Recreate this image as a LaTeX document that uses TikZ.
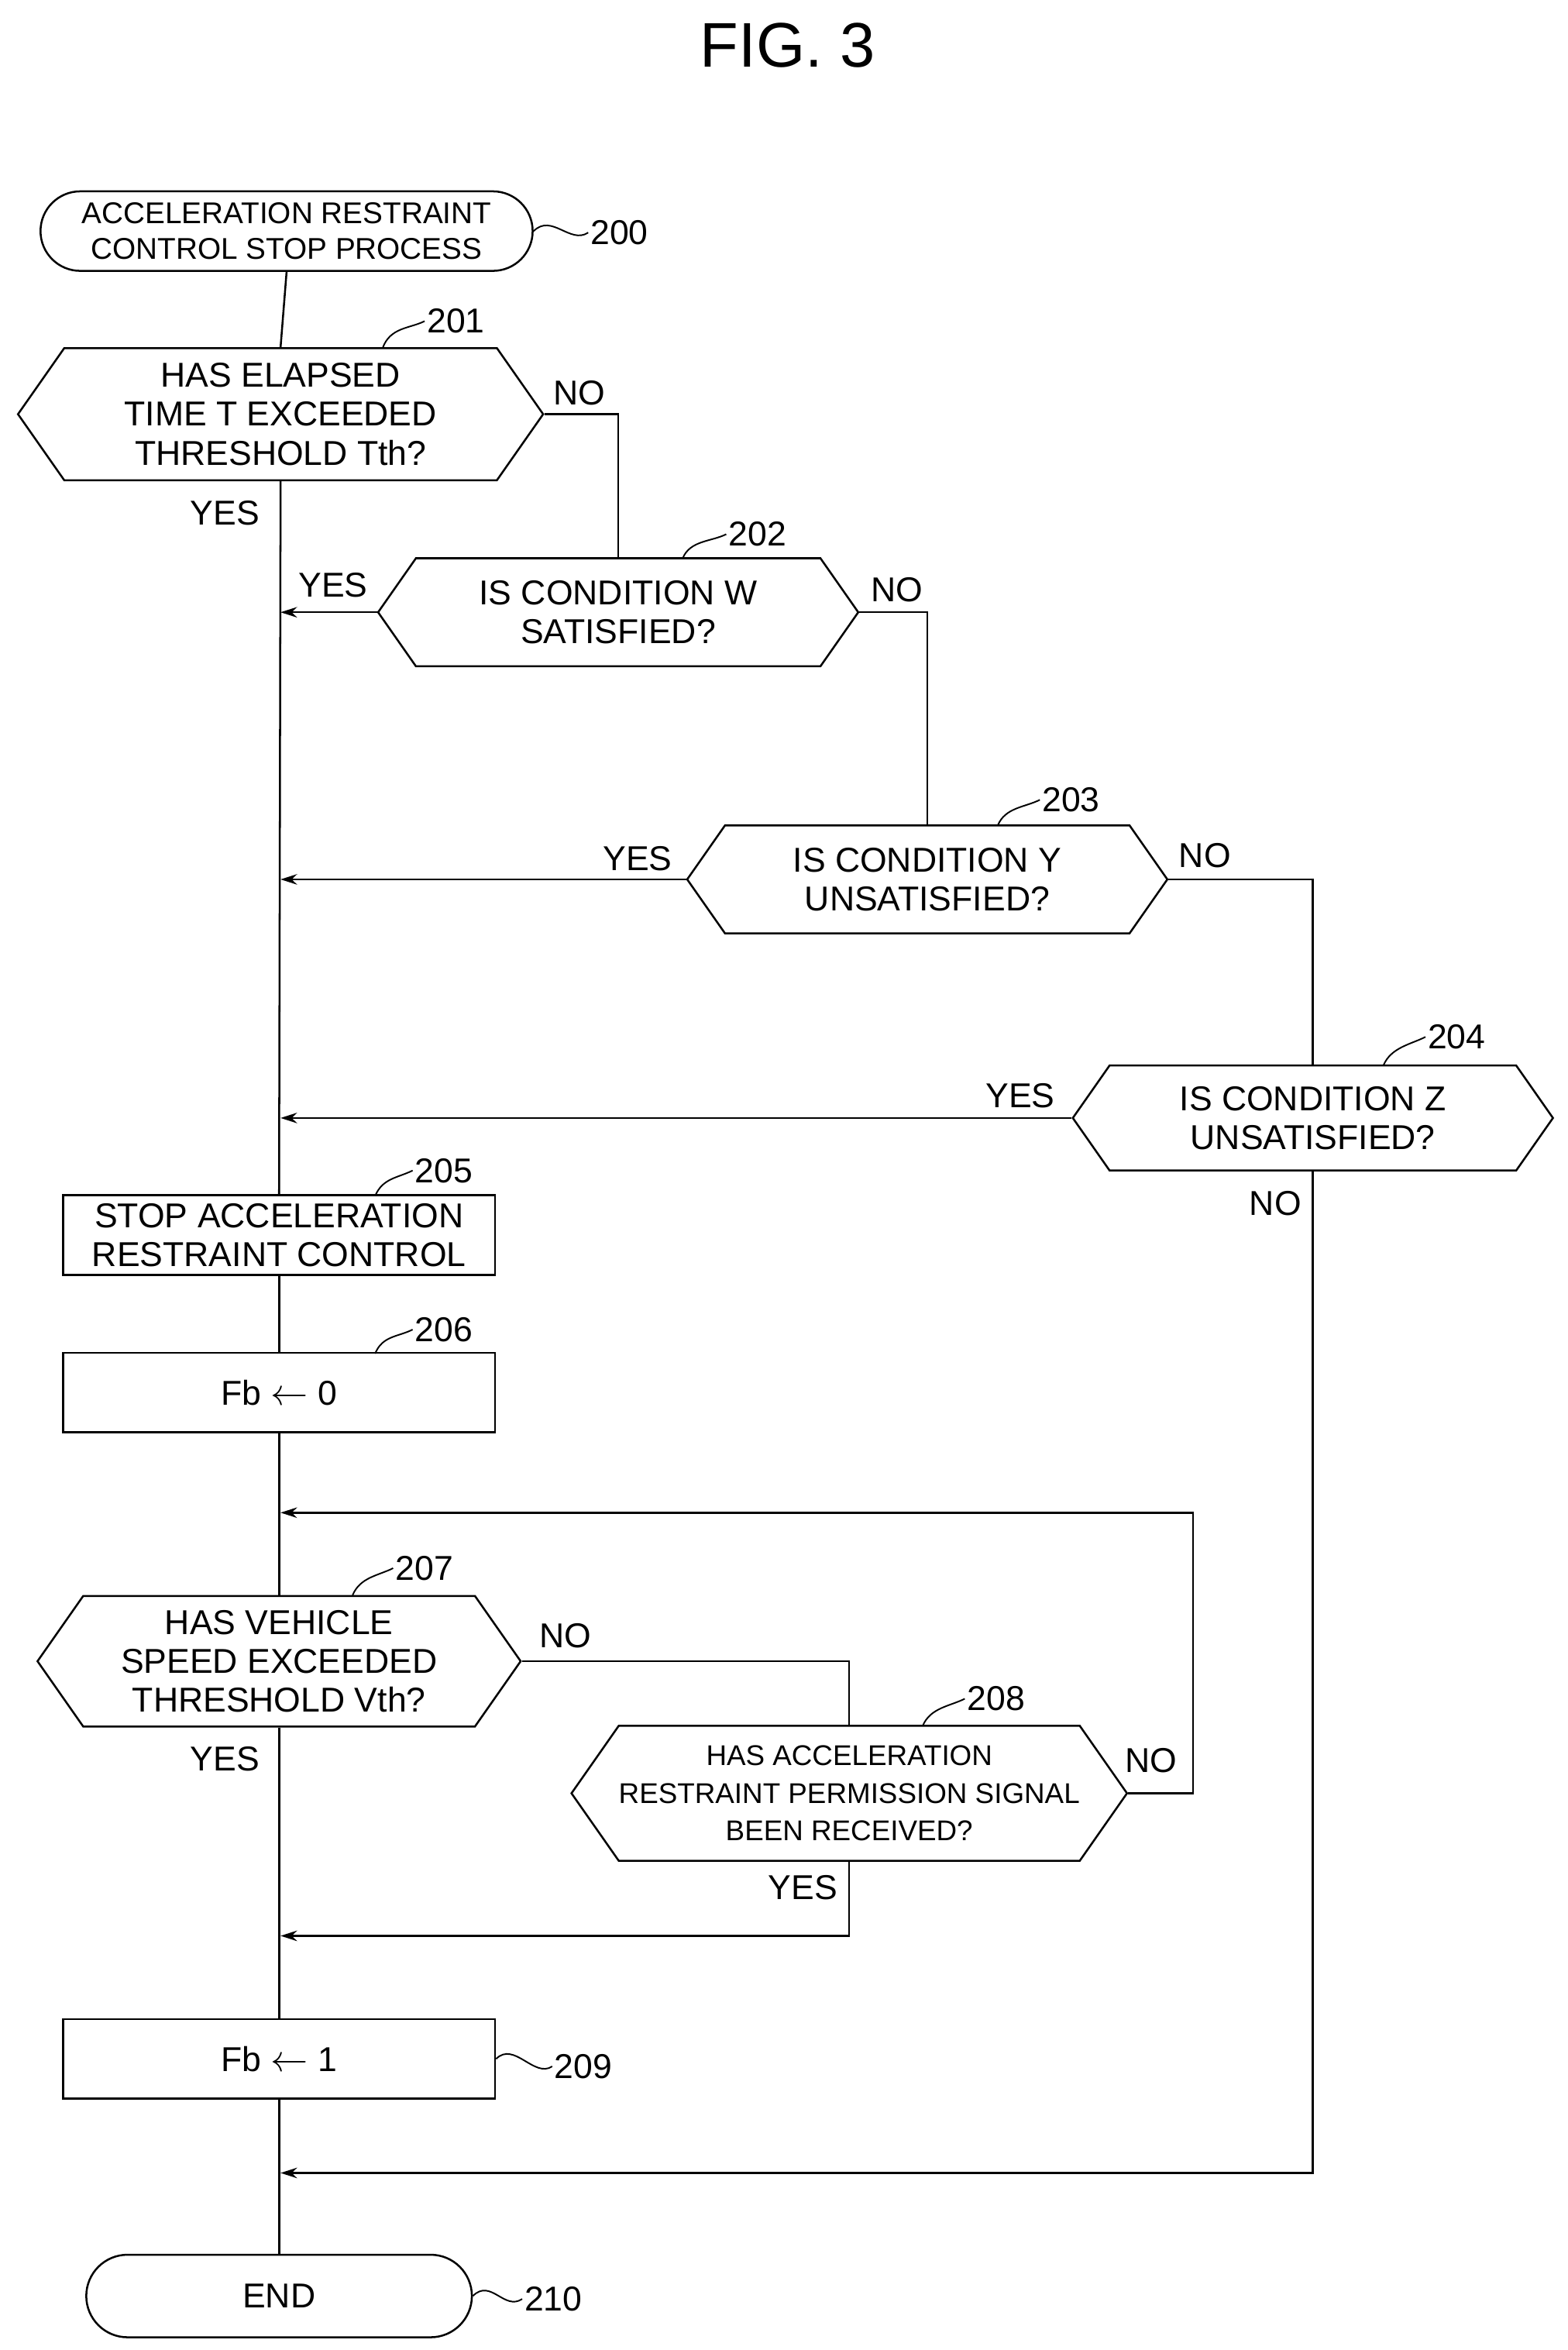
\documentclass[tikz,border=0pt]{standalone}
\usepackage{fontspec}
\setmainfont{Liberation Sans}
\usetikzlibrary{shapes.symbols,shapes.misc,arrows.meta}
\begin{document}
\begin{tikzpicture}[x=1pt,y=-1pt,line width=1.3pt,
  txt/.style={font=\fontsize{23}{26}\selectfont},
  dec/.style={draw,signal,signal to=west and east,signal pointer angle=110,inner sep=0,align=center,txt},
  box/.style={draw,rectangle,minimum width=288,minimum height=53,inner sep=0,align=center,txt},
  term/.style={draw,rounded rectangle,inner sep=0,align=center,txt},
  lab/.style={txt,anchor=west,inner sep=1},
  yn/.style={txt,inner sep=0},
  arr/.style={-{Stealth[length=11pt,width=7pt]}},
  sq/.style={line width=1pt}]
\useasboundingbox (0,0) rectangle (1045,1566);
\node[font=\fontsize{42}{44}\selectfont] (title) at (525,30) {FIG. 3};
\node[term,minimum width=328,minimum height=53,font=\fontsize{20}{24}\selectfont] (start) at (191,154) {ACCELERATION RESTRAINT\\CONTROL STOP PROCESS};
\node[lab] (l200) at (392,155) {200};
\draw[sq] (start.east) .. controls +(12,-12) and +(-12,8) .. (l200.west);

\node[dec,minimum width=350,minimum height=88] (d201) at (187,276) {HAS ELAPSED\\TIME T EXCEEDED\\THRESHOLD Tth?};
\node[lab] (l201) at (283,214) {201};
\draw[sq] (255,232) .. controls +(5,-14) and +(-10,5) .. (l201.west);
\node[dec,minimum width=320,minimum height=72] (d202) at (412,408) {IS CONDITION W\\SATISFIED?};
\node[lab] (l202) at (484,356) {202};
\draw[sq] (455,372) .. controls +(5,-12) and +(-10,5) .. (l202.west);
\node[dec,minimum width=320,minimum height=72] (d203) at (618,586) {IS CONDITION Y\\UNSATISFIED?};
\node[lab] (l203) at (693,533) {203};
\draw[sq] (665,550) .. controls +(5,-12) and +(-10,5) .. (l203.west);
\node[dec,minimum width=320,minimum height=70] (d204) at (875,745) {IS CONDITION Z\\UNSATISFIED?};
\node[lab] (l204) at (950,691) {204};
\draw[sq] (922,710) .. controls +(5,-12) and +(-10,5) .. (l204.west);

\node[box] (b205) at (186,823) {STOP ACCELERATION\\RESTRAINT CONTROL};
\node[lab] (l205) at (275,780) {205};
\draw[sq] (250,797) .. controls +(5,-12) and +(-10,5) .. (l205.west);
\node[box] (b206) at (186,928) {Fb $\leftarrow$ 0};
\node[lab] (l206) at (275,886) {206};
\draw[sq] (250,902) .. controls +(5,-12) and +(-10,5) .. (l206.west);

\node[dec,minimum width=322,minimum height=87] (d207) at (186,1107) {HAS VEHICLE\\SPEED EXCEEDED\\THRESHOLD Vth?};
\node[lab] (l207) at (262,1045) {207};
\draw[sq] (235,1063) .. controls +(5,-12) and +(-10,5) .. (l207.west);
\node[dec,minimum width=343,minimum height=90,font=\fontsize{19}{25}\selectfont] (d208) at (566,1195) {HAS ACCELERATION\\RESTRAINT PERMISSION SIGNAL\\BEEN RECEIVED?};
\node[lab] (l208) at (643,1132) {208};
\draw[sq] (615,1150) .. controls +(5,-12) and +(-10,5) .. (l208.west);

\node[box] (b209) at (186,1372) {Fb $\leftarrow$ 1};
\node[lab] (l209) at (368,1377) {209};
\draw[sq] (b209.east) .. controls +(12,-12) and +(-12,8) .. (l209.west);
\node[term,minimum width=257,minimum height=55] (end) at (186,1530) {END};
\node[lab] (l210) at (348,1532) {210};
\draw[sq] (end.east) .. controls +(12,-12) and +(-12,8) .. (l210.west);

% main line
\draw (start.south) -- (d201.north);
\draw (d201.south) -- (b205.north);
\draw (b205.south) -- (b206.north);
\draw (b206.south) -- (d207.north);
\draw (d207.south) -- (b209.north);
\draw (b209.south) -- (end.north);

\coordinate (m202) at (187,408);
\coordinate (m203) at (187,586);
\coordinate (m204) at (187,745);
\coordinate (mloop) at (187,1008);
\coordinate (m208) at (187,1290);
\coordinate (mend) at (187,1448);
\coordinate (r208) at (795,1195);

\draw (d201.east) -| (d202.north);
\draw[arr] (d202.west) -- (m202);
\draw (d202.east) -| (d203.north);
\draw[arr] (d203.west) -- (m203);
\draw (d203.east) -| (d204.north);
\draw[arr] (d204.west) -- (m204);
\draw[arr] (d204.south) |- (mend);
\draw (d207.east) -| (d208.north);
\draw[arr] (d208.east) -- (r208) |- (mloop);
\draw[arr] (d208.south) |- (m208);

\node[yn] (y201) at (150,342) {YES};
\node[yn] (n201) at (386,262) {NO};
\node[yn] (y202) at (222,390) {YES};
\node[yn] (n202) at (598,393) {NO};
\node[yn] (y203) at (425,572) {YES};
\node[yn] (n203) at (803,570) {NO};
\node[yn] (y204) at (680,730) {YES};
\node[yn] (n204) at (850,802) {NO};
\node[yn] (y207) at (150,1172) {YES};
\node[yn] (n207) at (377,1090) {NO};
\node[yn] (n208) at (767,1173) {NO};
\node[yn] (y208) at (535,1258) {YES};
\end{tikzpicture}
\end{document}
